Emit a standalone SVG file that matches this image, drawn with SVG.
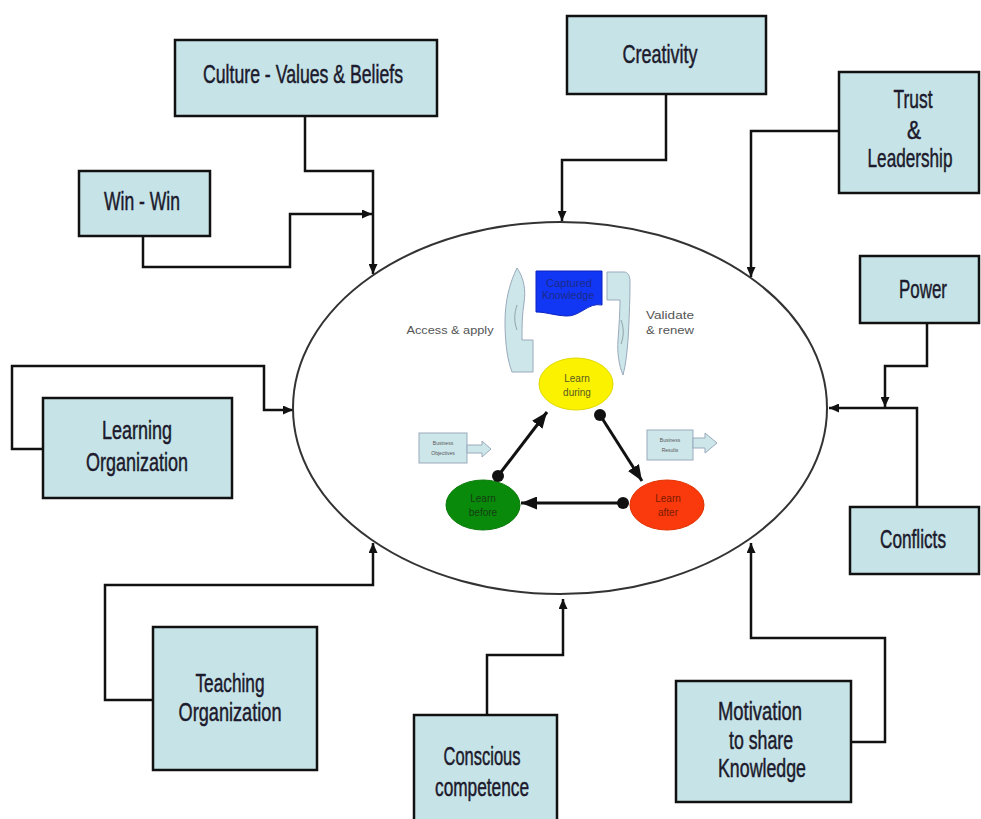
<svg xmlns="http://www.w3.org/2000/svg" width="981" height="819" viewBox="0 0 981 819">
  <style>
    .box { fill: #c6e4e8; stroke: #111; stroke-width: 2.5; }
    .lbl { font-family: "Liberation Sans", Arial, sans-serif; font-size: 26px; fill: #1c1a2c; stroke: #1c1a2c; stroke-width: 0.5; text-anchor: middle; }
    .conn { fill: none; stroke: #111; stroke-width: 2.5; stroke-linejoin: miter; }
    .cycle { fill: none; stroke: #111; stroke-width: 3; }
    .small { font-family: "Liberation Sans", Arial, sans-serif; font-size: 11px; fill: #555; }
    .node-txt { font-family: "Liberation Sans", Arial, sans-serif; font-size: 10px; text-anchor: middle; }
    .tiny { font-family: "Liberation Sans", Arial, sans-serif; font-size: 5px; fill: #555; text-anchor: middle; }
    .pale { fill: #cde6ea; stroke: #9ab; stroke-width: 1; }
  </style>
  <defs>
    <marker id="arr" markerUnits="userSpaceOnUse" markerWidth="11" markerHeight="9" refX="10" refY="4.5" orient="auto">
      <path d="M0,0 L10,4.5 L0,9 Z" fill="#111"/>
    </marker>
    <marker id="bigArr" markerUnits="userSpaceOnUse" markerWidth="17" markerHeight="13" refX="16" refY="6.5" orient="auto">
      <path d="M0,0 L16,6.5 L0,13 Z" fill="#111"/>
    </marker>
  </defs>

  <rect width="981" height="819" fill="#fff"/>

  <!-- connectors from the factors into the central cycle -->
  <g id="connectors">
    <path class="conn" d="M305,116 V171 H373 V274" marker-end="url(#arr)"/>
    <path class="conn" d="M143,236 V267 H290 V214 H372" marker-end="url(#arr)"/>
    <path class="conn" d="M666,94 V160 H562 V221" marker-end="url(#arr)"/>
    <path class="conn" d="M839,131 H751 V277" marker-end="url(#arr)"/>
    <path class="conn" d="M927,323 V366 H885 V407" marker-end="url(#arr)"/>
    <path class="conn" d="M917,507 V408 H829" marker-end="url(#arr)"/>
    <path class="conn" d="M43,449 H12 V366 H264 V410 H293" marker-end="url(#arr)"/>
    <path class="conn" d="M153,700 H105 V585 H373 V543" marker-end="url(#arr)"/>
    <path class="conn" d="M487,715 V655 H563 V599" marker-end="url(#arr)"/>
    <path class="conn" d="M851,742 H885 V638 H751 V543" marker-end="url(#arr)"/>
  </g>

  <!-- central learning cycle -->
  <g id="cycle">
    <ellipse cx="560" cy="408" rx="267" ry="186" fill="#fff" stroke="#333" stroke-width="2"/>

    <g id="captured-knowledge">
      <path d="M536,271 H602 V305 C588,302 580,317 566,316 C552,315 546,312 536,312 Z" fill="#1237f4" stroke="#0a22c0" stroke-width="1"/>
      <text class="node-txt" x="569" y="287" font-size="9" fill="#1a2a8a" textLength="46" lengthAdjust="spacingAndGlyphs">Captured</text>
      <text class="node-txt" x="568" y="299" font-size="9" fill="#1a2a8a" textLength="52" lengthAdjust="spacingAndGlyphs">Knowledge</text>
    </g>

    <g id="access-arrow">
      <path class="pale" d="M517,268 C524,278 526,290 524,303 C522,314 522,328 522,340 H533 V372 H512 C508,362 505,345 505,322 C505,300 510,282 517,268 Z"/>
      <path d="M517,305 C514,314 514,322 517,330" fill="none" stroke="#8fa5aa" stroke-width="1"/>
      <text class="small" x="450" y="334" text-anchor="middle" textLength="87" lengthAdjust="spacingAndGlyphs">Access &amp; apply</text>
    </g>

    <g id="validate-arrow">
      <path class="pale" d="M607,272 H624 C628,272 630,276 630,282 C630,300 629,325 628,340 C627,352 626,364 623,375 C619,366 617,352 618,340 C619,326 620,312 620,300 H607 Z"/>
      <path d="M621,320 C624,328 624,336 621,344" fill="none" stroke="#8fa5aa" stroke-width="1"/>
      <text class="small" x="646" y="319" textLength="48" lengthAdjust="spacingAndGlyphs">Validate</text>
      <text class="small" x="646" y="334" textLength="48" lengthAdjust="spacingAndGlyphs">&amp; renew</text>
    </g>

    <g id="business-objectives">
      <rect class="pale" x="419" y="433" width="48" height="30"/>
      <path class="pale" d="M467,445 H482 V441 L491,449 L482,457 V453 H467 Z"/>
      <text class="tiny" x="443" y="445">Business</text>
      <text class="tiny" x="443" y="455">Objectives</text>
    </g>

    <g id="business-results">
      <rect class="pale" x="647" y="430" width="46" height="30"/>
      <path class="pale" d="M693,438 H705 V433 L717,443 L705,453 V448 H693 Z"/>
      <text class="tiny" x="670" y="442">Business</text>
      <text class="tiny" x="670" y="452">Results</text>
    </g>

    <g id="learn-during">
      <ellipse cx="576" cy="384" rx="37" ry="26" fill="#fbf200" stroke="#e0d800" stroke-width="1"/>
      <text class="node-txt" x="577" y="382" fill="#5a5a20">Learn</text>
      <text class="node-txt" x="577" y="396" fill="#5a5a20">during</text>
    </g>

    <g id="learn-before">
      <ellipse cx="483" cy="505" rx="37" ry="25" fill="#0a8a0a" stroke="#0a7a0a" stroke-width="1"/>
      <text class="node-txt" x="483" y="502" fill="#143e14">Learn</text>
      <text class="node-txt" x="483" y="516" fill="#143e14">before</text>
    </g>

    <g id="learn-after">
      <ellipse cx="667" cy="505" rx="37" ry="25" fill="#fa3a0c" stroke="#e03000" stroke-width="1"/>
      <text class="node-txt" x="668" y="502" fill="#7a1a00">Learn</text>
      <text class="node-txt" x="668" y="516" fill="#7a1a00">after</text>
    </g>

    <g id="cycle-arrows">
      <line class="cycle" x1="498" y1="476" x2="547" y2="412" marker-end="url(#bigArr)"/>
      <circle cx="498" cy="476" r="6" fill="#111"/>
      <line class="cycle" x1="600" y1="415" x2="642" y2="481" marker-end="url(#bigArr)"/>
      <circle cx="600" cy="415" r="6" fill="#111"/>
      <line class="cycle" x1="623" y1="503" x2="521" y2="503" marker-end="url(#bigArr)"/>
      <circle cx="623" cy="503" r="6" fill="#111"/>
    </g>
  </g>

  <!-- factor boxes -->
  <g id="culture">
    <rect class="box" x="175" y="40" width="262" height="76"/>
    <text class="lbl" x="303" y="83" textLength="200" lengthAdjust="spacingAndGlyphs">Culture - Values &amp; Beliefs</text>
  </g>

  <g id="win-win">
    <rect class="box" x="79" y="171" width="131" height="65"/>
    <text class="lbl" x="142" y="210" textLength="76" lengthAdjust="spacingAndGlyphs">Win - Win</text>
  </g>

  <g id="creativity">
    <rect class="box" x="567" y="16" width="199" height="78"/>
    <text class="lbl" x="660" y="63" textLength="75" lengthAdjust="spacingAndGlyphs">Creativity</text>
  </g>

  <g id="trust-leadership">
    <rect class="box" x="839" y="72" width="140" height="121"/>
    <text class="lbl" x="913" y="108" textLength="39" lengthAdjust="spacingAndGlyphs">Trust</text>
    <text class="lbl" x="914" y="139" textLength="14" lengthAdjust="spacingAndGlyphs">&amp;</text>
    <text class="lbl" transform="translate(910,167) scale(0.66,1)" x="0" y="0">Leadership</text>
  </g>

  <g id="power">
    <rect class="box" x="860" y="256" width="119" height="67"/>
    <text class="lbl" x="923" y="298" textLength="48" lengthAdjust="spacingAndGlyphs">Power</text>
  </g>

  <g id="conflicts">
    <rect class="box" x="850" y="507" width="129" height="67"/>
    <text class="lbl" x="913" y="548" textLength="66" lengthAdjust="spacingAndGlyphs">Conflicts</text>
  </g>

  <g id="learning-organization">
    <rect class="box" x="43" y="398" width="189" height="100"/>
    <text class="lbl" x="137" y="439" textLength="70" lengthAdjust="spacingAndGlyphs">Learning</text>
    <text class="lbl" x="137" y="471" textLength="102" lengthAdjust="spacingAndGlyphs">Organization</text>
  </g>

  <g id="teaching-organization">
    <rect class="box" x="153" y="627" width="164" height="143"/>
    <text class="lbl" x="230" y="692" textLength="69" lengthAdjust="spacingAndGlyphs">Teaching</text>
    <text class="lbl" x="230" y="721" textLength="103" lengthAdjust="spacingAndGlyphs">Organization</text>
  </g>

  <g id="conscious-competence">
    <rect class="box" x="414" y="715" width="143" height="110"/>
    <text class="lbl" x="482" y="765" textLength="77" lengthAdjust="spacingAndGlyphs">Conscious</text>
    <text class="lbl" x="482" y="796" textLength="94" lengthAdjust="spacingAndGlyphs">competence</text>
  </g>

  <g id="motivation">
    <rect class="box" x="676" y="681" width="175" height="121"/>
    <text class="lbl" x="760" y="720" textLength="84" lengthAdjust="spacingAndGlyphs">Motivation</text>
    <text class="lbl" x="761" y="749" textLength="64" lengthAdjust="spacingAndGlyphs">to share</text>
    <text class="lbl" x="762" y="777" textLength="88" lengthAdjust="spacingAndGlyphs">Knowledge</text>
  </g>
</svg>
